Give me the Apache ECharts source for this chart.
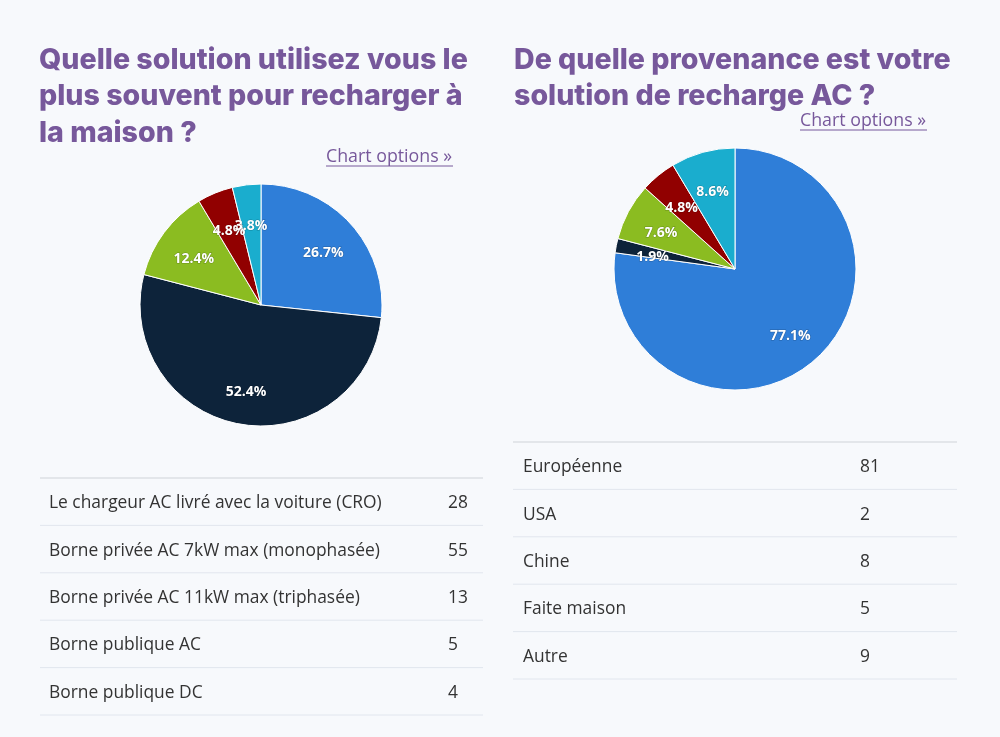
<!DOCTYPE html>
<html><head><meta charset="utf-8">
<script src="https://cdn.jsdelivr.net/npm/echarts@6/dist/echarts.min.js"></script>
<style>html,body{margin:0;padding:0;background:#f7f9fc;}#c{width:1000px;height:737px;}</style>
</head><body><div id="c"></div>
<script>
const leftTitle = ['Quelle solution utilisez vous le', 'plus souvent pour recharger à', 'la maison ?'];
const rightTitle = ['De quelle provenance est votre', 'solution de recharge AC ?'];
const leftCategories = ['Le chargeur AC livré avec la voiture (CRO)', 'Borne privée AC 7kW max (monophasée)', 'Borne privée AC 11kW max (triphasée)', 'Borne publique AC', 'Borne publique DC'];
const leftValues = [28, 55, 13, 5, 4];
const rightCategories = ['Européenne', 'USA', 'Chine', 'Faite maison', 'Autre'];
const rightValues = [81, 2, 8, 5, 9];
const palette = ['#2f7ed8', '#0d233a', '#8bbc21', '#910000', '#1aadce'];
const linkText = 'Chart options »';

const purple = '#77589b';
const chart = echarts.init(document.getElementById('c'), null, {renderer: 'canvas'});

function pieSeries(cats, vals, center) {
  const total = vals.reduce((a, b) => a + b, 0);
  const data = cats.map((c, i) => ({name: c, value: vals[i], itemStyle: {color: palette[i]}}));
  return [
    {
      type: 'pie', center: center, radius: [0, 121], startAngle: 90, clockwise: true,
      silent: true, animation: false,
      itemStyle: {borderColor: '#ffffff', borderWidth: 1},
      label: {show: false}, labelLine: {show: false},
      data: data
    },
    {
      type: 'pie', center: center, radius: [0, 162], startAngle: 90, clockwise: true,
      silent: true, animation: false, avoidLabelOverlap: false,
      labelLayout: {hideOverlap: false},
      itemStyle: {color: 'rgba(0,0,0,0)', borderWidth: 0},
      label: {show: true, position: 'inside', offset: [0, 4],
        formatter: p => (p.value / total * 100).toFixed(1) + '%',
        color: '#ffffff', fontFamily: 'Open Sans', fontWeight: 'bold', fontSize: 14,
        textBorderColor: 'rgba(0,0,0,0.25)', textBorderWidth: 1},
      labelLine: {show: false},
      data: cats.map((c, i) => ({name: c, value: vals[i]}))
    }
  ];
}

function tableGraphics(cats, vals, x0, x1, yTop, rowH, textX, valX) {
  const g = [];
  for (let i = 0; i <= cats.length; i++) {
    const y = yTop + i * rowH;
    g.push({type: 'line', shape: {x1: x0, y1: y, x2: x1, y2: y},
      style: {stroke: i === 0 ? '#cfd3d8' : '#e1e6ee', lineWidth: 1}});
  }
  cats.forEach((c, i) => {
    const yc = yTop + (i + 0.5) * rowH + 1.5;
    g.push({type: 'text', x: textX, y: yc, style: {text: c, fill: '#333333',
      font: '17.4px "Open Sans"', textVerticalAlign: 'middle', textAlign: 'left'}});
    g.push({type: 'text', x: valX, y: yc, style: {text: String(vals[i]), fill: '#333333',
      font: '17.4px "Open Sans"', textVerticalAlign: 'middle', textAlign: 'left'}});
  });
  return g;
}

function titleGraphics(lines, x, y0, lh) {
  return lines.map((t, i) => ({type: 'text', x: x, y: y0 + i * lh,
    style: {text: t, fill: purple, font: '800 28.6px Inter', textVerticalAlign: 'middle', textAlign: 'left'}}));
}

function linkGraphics(x, y) {
  return [
    {type: 'text', x: x, y: y, style: {text: linkText, fill: purple, font: '17.8px "Open Sans"', textVerticalAlign: 'middle', textAlign: 'left'}},
    {type: 'line', shape: {x1: x, y1: y + 9, x2: x + 127, y2: y + 9}, style: {stroke: purple, lineWidth: 1}}
  ];
}

const graphics = [].concat(
  titleGraphics(leftTitle, 39, 60, 36.5),
  titleGraphics(rightTitle, 514, 60, 36.5),
  linkGraphics(326, 157),
  linkGraphics(800, 121),
  tableGraphics(leftCategories, leftValues, 40, 483, 478, 47.4, 49, 448),
  tableGraphics(rightCategories, rightValues, 513, 957, 442, 47.4, 523, 860)
);

chart.setOption({
  backgroundColor: '#f7f9fc',
  animation: false,
  series: [].concat(pieSeries(leftCategories, leftValues, [261, 305]), pieSeries(rightCategories, rightValues, [735, 269])),
  graphic: graphics
});
</script>
</body></html>
